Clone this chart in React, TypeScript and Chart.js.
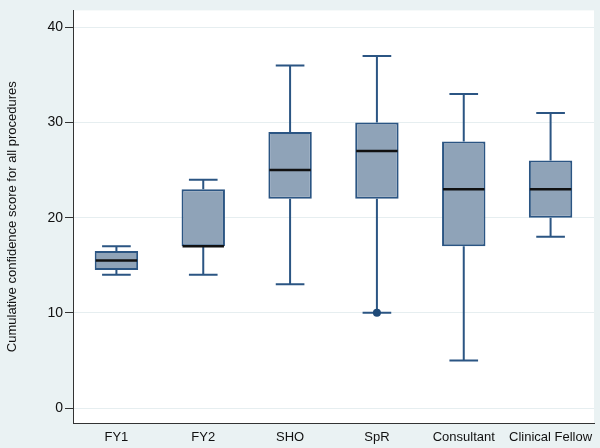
import React, { useEffect, useRef } from "react";
import { Chart, registerables } from "chart.js";

Chart.register(...registerables);

const categories = ["FY1", "FY2", "SHO", "SpR", "Consultant", "Clinical Fellow"];
const minVals = [14, 14, 13, 10, 5, 18];
const q1Vals = [14.5, 17, 22, 22, 17, 20];
const medianVals = [15.5, 17, 25, 27, 23, 23];
const q3Vals = [16.5, 23, 29, 30, 28, 26];
const maxVals = [17, 24, 36, 37, 33, 31];
const outliers: { cat: number; value: number }[] = [{ cat: 3, value: 10 }];
const yTicks = [0, 10, 20, 30, 40];

const BOX_FILL = "#8fa3b8";
const BOX_LINE = "#2b5583";
const BG = "#eaf2f3";

const boxPlugin = {
  id: "boxExtras",
  beforeDraw(chart: any) {
    const { ctx, chartArea } = chart;
    ctx.save();
    ctx.fillStyle = "#ffffff";
    ctx.fillRect(chartArea.left, chartArea.top, chartArea.right - chartArea.left, chartArea.bottom - chartArea.top);
    ctx.restore();
  },
  afterDatasetsDraw(chart: any) {
    const { ctx } = chart;
    const y = chart.scales.y;
    const meta = chart.getDatasetMeta(0);
    ctx.save();
    meta.data.forEach((bar: any, i: number) => {
      const cx = bar.x;
      const w = bar.width;
      const cap = w * 0.33;
      const yMin = y.getPixelForValue(minVals[i]);
      const yMax = y.getPixelForValue(maxVals[i]);
      const yQ1 = y.getPixelForValue(q1Vals[i]);
      const yQ3 = y.getPixelForValue(q3Vals[i]);
      const yMed = y.getPixelForValue(medianVals[i]);
      ctx.strokeStyle = BOX_LINE;
      ctx.lineWidth = 2;
      ctx.beginPath();
      ctx.moveTo(cx, yQ3);
      ctx.lineTo(cx, yMax);
      ctx.moveTo(cx - cap, yMax);
      ctx.lineTo(cx + cap, yMax);
      ctx.moveTo(cx, yQ1);
      ctx.lineTo(cx, yMin);
      ctx.moveTo(cx - cap, yMin);
      ctx.lineTo(cx + cap, yMin);
      ctx.stroke();
      ctx.strokeStyle = "#111111";
      ctx.lineWidth = 2.5;
      ctx.beginPath();
      ctx.moveTo(cx - w / 2 + 1, yMed);
      ctx.lineTo(cx + w / 2 - 1, yMed);
      ctx.stroke();
    });
    outliers.forEach((o) => {
      const bar = meta.data[o.cat];
      ctx.fillStyle = "#1f4a78";
      ctx.beginPath();
      ctx.arc(bar.x, y.getPixelForValue(o.value), 4, 0, Math.PI * 2);
      ctx.fill();
    });
    ctx.restore();
  },
};

export default function App() {
  const ref = useRef<HTMLCanvasElement | null>(null);
  useEffect(() => {
    document.body.style.margin = "0";
    const chart = new Chart(ref.current as HTMLCanvasElement, {
      type: "bar",
      data: {
        labels: categories,
        datasets: [
          {
            data: categories.map((_, i) => [q1Vals[i], q3Vals[i]]) as any,
            backgroundColor: BOX_FILL,
            borderColor: BOX_LINE,
            borderWidth: 2,
            borderSkipped: false,
            barPercentage: 0.5,
            categoryPercentage: 1,
          },
        ],
      },
      options: {
        responsive: false,
        animation: false,
        layout: { padding: { left: 0, top: 10, right: 6, bottom: 0 } },
        plugins: { legend: { display: false }, tooltip: { enabled: false } },
        scales: {
          x: {
            type: "category",
            offset: true,
            grid: { display: false, drawTicks: false },
            border: { display: true, color: "#333333", width: 1 },
            ticks: {
              color: "#111111",
              font: { family: "'Liberation Sans', Arial, sans-serif", size: 13 },
              padding: 7,
              maxRotation: 0,
              autoSkip: false,
            },
            afterFit(scale: any) {
              scale.height = 25;
            },
          },
          y: {
            type: "linear",
            min: -1.575,
            max: 41.785,
            afterBuildTicks(scale: any) {
              scale.ticks = yTicks.map((v) => ({ value: v }));
            },
            afterFit(scale: any) {
              scale.width = 73;
            },
            grid: {
              color: "#e6eef0",
              lineWidth: 1,
              tickColor: "#333333",
              tickLength: 8,
              drawTicks: true,
            },
            border: { display: true, color: "#333333", width: 1 },
            ticks: {
              color: "#111111",
              font: { family: "'Liberation Sans', Arial, sans-serif", size: 14 },
              padding: 2,
            },
            title: {
              display: true,
              text: "Cumulative confidence score for all procedures",
              color: "#111111",
              font: { family: "'Liberation Sans', Arial, sans-serif", size: 13 },
              padding: { top: 5, bottom: 0 },
            },
          },
        },
      },
      plugins: [boxPlugin],
    });
    return () => chart.destroy();
  }, []);
  return (
    <div style={{ position: "fixed", left: 0, top: 0, width: 600, height: 448, background: BG }}>
      <canvas ref={ref} width={600} height={448} style={{ display: "block" }} />
    </div>
  );
}
